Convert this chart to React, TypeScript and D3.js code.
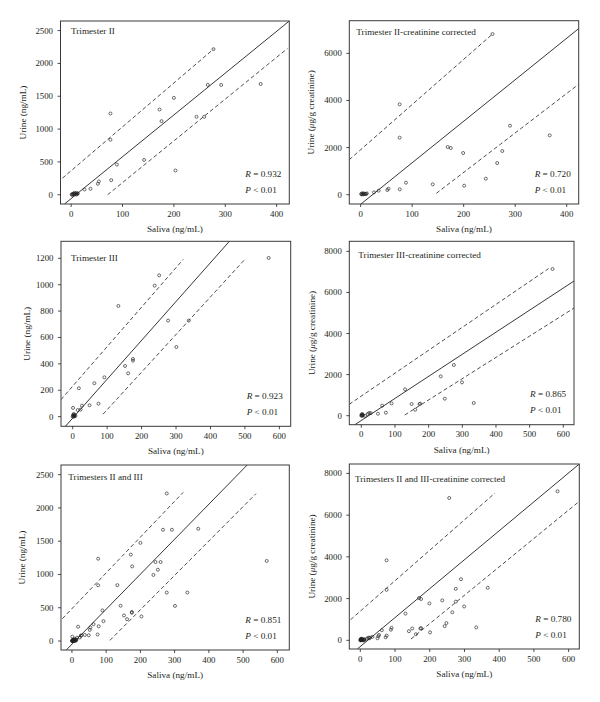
import React from 'react';
import * as d3 from 'd3';

// ---------- Data ----------
const t2Saliva = [1, 2, 3, 4, 5, 6, 7, 8, 10, 11, 12, 13, 26, 37.6, 52, 54, 78, 89, 76.5, 76.5, 142, 203, 172, 176, 200, 244, 259, 266, 292, 277, 369];
const t2Urine = [5, 0, 12, 3, 20, 8, 30, 15, 2, 25, 10, 20, 80, 91, 167, 202, 222, 460, 838, 1237, 530, 369, 1298, 1121, 1475, 1187, 1187, 1672, 1672, 2217, 1687];

const t2cSaliva = [1, 2, 3, 4, 5, 6, 8, 9, 11, 12, 25.9, 35, 51.8, 54, 76, 88, 75.7, 75.7, 140, 169, 175, 199, 201, 243, 265, 275, 290, 256, 367];
const t2cUrine = [20, 50, 10, 35, 60, 15, 40, 25, 30, 55, 99, 170, 198, 255, 226, 509, 2420, 3835, 439, 2024, 1981, 1769, 382, 679, 1344, 1854, 2929, 6820, 2519];

const t3Saliva = [0, 1, 2, 3, 4, 5, 6, 8, 3, 1, 14.5, 23, 27, 18, 49, 75, 63, 92, 132.6, 152, 161, 175, 175, 238, 251, 277, 301, 337, 569];
const t3Urine = [0, 10, 3, 15, 5, 0, 12, 6, 20, 66, 50, 53, 83, 215, 86, 98, 253, 298, 839, 384, 328, 437, 424, 993, 1071, 728, 528, 728, 1203];

const t3cSaliva = [0, 1, 2, 3, 4, 5, 2, 11, 19, 23, 28, 49.5, 73, 62, 90, 130, 149.5, 160, 173, 175, 236, 275, 248, 299, 334, 568];
const t3cUrine = [0, 60, 20, 80, 40, 10, 5, -10, 80, 130, 130, 97, 146, 487, 600, 1282, 568, 292, 568, 584, 1915, 2467, 828, 1623, 617, 7143];

const allSaliva = [...t2Saliva, ...t3Saliva];
const allUrine = [...t2Urine, ...t3Urine];
const allcSaliva = [...t2cSaliva, ...t3cSaliva];
const allcUrine = [...t2cUrine, ...t3cUrine];

const titles = [
  'Trimester II',
  'Trimester II-creatinine corrected',
  'Trimester III',
  'Trimester III-creatinine corrected',
  'Trimesters II and III',
  'Trimesters II and III-creatinine corrected',
];
const rValues = ['0.932', '0.720', '0.923', '0.865', '0.851', '0.780'];
const pText = '0.01';
const corrected = [false, true, false, true, false, true];

const xDomains: [number, number][] = [
  [-20.7, 424.6], [-22, 423.3], [-33.9, 632.9], [-35.6, 631.7], [-32, 635], [-31.7, 630.7],
];
const yDomains: [number, number][] = [
  [-141, 2646], [-396, 7387], [-73.3, 1329], [-438, 8490], [-135, 2645], [-415, 8450],
];
const xTicks = [
  [0, 100, 200, 300, 400],
  [0, 100, 200, 300, 400],
  [0, 100, 200, 300, 400, 500, 600],
  [0, 100, 200, 300, 400, 500, 600],
  [0, 100, 200, 300, 400, 500, 600],
  [0, 100, 200, 300, 400, 500, 600],
];
const yTicks = [
  [0, 500, 1000, 1500, 2000, 2500],
  [0, 2000, 4000, 6000],
  [0, 200, 400, 600, 800, 1000, 1200],
  [0, 2000, 4000, 6000, 8000],
  [0, 500, 1000, 1500, 2000, 2500],
  [0, 2000, 4000, 6000, 8000],
];

// regression line and prediction bounds: [x1, y1, x2, y2] in data units
const fitLines: number[][] = [
  [-13, -141, 424.6, 2646],
  [0.6, -396, 423, 7047],
  [-21, -73, 455, 1329],
  [-19, -438, 632, 6558],
  [-16.6, -135, 512, 2645],
  [-8.6, -415, 630.7, 8450],
];
const upperLines: number[][] = [
  [-17, 252, 277, 2217],
  [-22, 1486, 256, 6820],
  [-34, 129, 321, 1192],
  [-36, 552, 556, 7159],
  [-28, 336, 325, 2234],
  [-28, 990, 388, 7061],
];
const lowerLines: number[][] = [
  [71, 0, 421, 2227],
  [147, 57, 423, 4684],
  [88, 18, 498, 1187],
  [129, 32, 632, 5243],
  [111, 10, 537.6, 2214],
  [146, 64, 630.7, 6661],
];

const seriesX = [t2Saliva, t2cSaliva, t3Saliva, t3cSaliva, allSaliva, allcSaliva];
const seriesY = [t2Urine, t2cUrine, t3Urine, t3cUrine, allUrine, allcUrine];

// ---------- Layout ----------
const frames = [
  { left: 60.5, right: 289.3, top: 21, bottom: 204, titleDx: 10.5, titleDy: 13, yTitleDx: 35 },
  { left: 349.3, right: 578.7, top: 20.7, bottom: 204, titleDx: 7, titleDy: 14, yTitleDx: 35 },
  { left: 61, right: 290.7, top: 241.3, bottom: 426.3, titleDx: 10, titleDy: 20, yTitleDx: 31 },
  { left: 349.3, right: 574, top: 241.3, bottom: 424.7, titleDx: 9, titleDy: 17, yTitleDx: 34.5 },
  { left: 61, right: 289.3, top: 465, bottom: 650, titleDx: 7.3, titleDy: 15, yTitleDx: 36 },
  { left: 349.3, right: 579.3, top: 464, bottom: 649, titleDx: 5.7, titleDy: 17.5, yTitleDx: 34.5 },
];

const FONT = "'Liberation Serif', 'DejaVu Serif', serif";
const INK = '#231f20';

function Panel({ i }: { i: number }) {
  const f = frames[i];
  const x = d3.scaleLinear().domain(xDomains[i]).range([f.left, f.right]);
  const y = d3.scaleLinear().domain(yDomains[i]).range([f.bottom, f.top]);
  const clipId = `clip-${i}`;
  const line = d3.line<[number, number]>().x((d) => x(d[0])).y((d) => y(d[1]));
  const seg = (s: number[]) => line([[s[0], s[1]], [s[2], s[3]]]) || '';
  const xs = seriesX[i];
  const ys = seriesY[i];
  const midY = (f.top + f.bottom) / 2;
  const midX = (f.left + f.right) / 2;
  return (
    <g>
      <defs>
        <clipPath id={clipId}>
          <rect x={f.left} y={f.top} width={f.right - f.left} height={f.bottom - f.top} />
        </clipPath>
      </defs>
      <g clipPath={`url(#${clipId})`}>
        <path d={seg(fitLines[i])} stroke={INK} strokeWidth={0.9} fill="none" />
        <path d={seg(upperLines[i])} stroke={INK} strokeWidth={0.8} strokeDasharray="4,2.6" fill="none" />
        <path d={seg(lowerLines[i])} stroke={INK} strokeWidth={0.8} strokeDasharray="4,2.6" fill="none" />
        {xs.map((v, k) => (
          <circle key={k} cx={x(v)} cy={y(ys[k])} r={1.5} fill="none" stroke={INK} strokeWidth={0.65} />
        ))}
      </g>
      <rect x={f.left} y={f.top} width={f.right - f.left} height={f.bottom - f.top} fill="none" stroke="#3a3a3a" strokeWidth={1} />
      {xTicks[i].map((t) => (
        <g key={`xt${t}`}>
          <line x1={x(t)} x2={x(t)} y1={f.bottom} y2={f.bottom + 3} stroke={INK} strokeWidth={0.8} />
          <text x={x(t)} y={f.bottom + 12.5} textAnchor="middle" fontSize={8.8} fontFamily={FONT} fill={INK}>{t}</text>
        </g>
      ))}
      {yTicks[i].map((t) => (
        <g key={`yt${t}`}>
          <line x1={f.left - 3} x2={f.left} y1={y(t)} y2={y(t)} stroke={INK} strokeWidth={0.8} />
          <text x={f.left - 7.5} y={y(t) + 3} textAnchor="end" fontSize={8.8} fontFamily={FONT} fill={INK}>{t}</text>
        </g>
      ))}
      <text x={f.left + f.titleDx} y={f.top + f.titleDy} fontSize={9.2} fontFamily={FONT} fill={INK}>{titles[i]}</text>
      <text x={f.right - 44} y={f.bottom - 27.5} fontSize={9.2} fontFamily={FONT} fill={INK}>
        <tspan fontStyle="italic">R</tspan> = {rValues[i]}
      </text>
      <text x={f.right - 44} y={f.bottom - 11.5} fontSize={9.2} fontFamily={FONT} fill={INK}>
        <tspan fontStyle="italic">P</tspan> &lt; {pText}
      </text>
      <text x={midX} y={f.bottom + 28} textAnchor="middle" fontSize={9.2} fontFamily={FONT} fill={INK}>Saliva (ng/mL)</text>
      <text
        transform={`translate(${f.left - f.yTitleDx},${midY}) rotate(-90)`}
        textAnchor="middle"
        fontSize={9.2}
        fontFamily={FONT}
        fill={INK}
      >
        {corrected[i] ? (
          <>Urine (<tspan fontStyle="italic">μ</tspan>g/g creatinine)</>
        ) : (
          'Urine (ng/mL)'
        )}
      </text>
    </g>
  );
}

export default function App() {
  return (
    <svg width={600} height={702} style={{ position: 'absolute', left: 0, top: 0, background: '#fff' }}>
      <rect x={0} y={0} width={600} height={702} fill="#fff" />
      {titles.map((_, i) => (
        <Panel key={i} i={i} />
      ))}
    </svg>
  );
}
